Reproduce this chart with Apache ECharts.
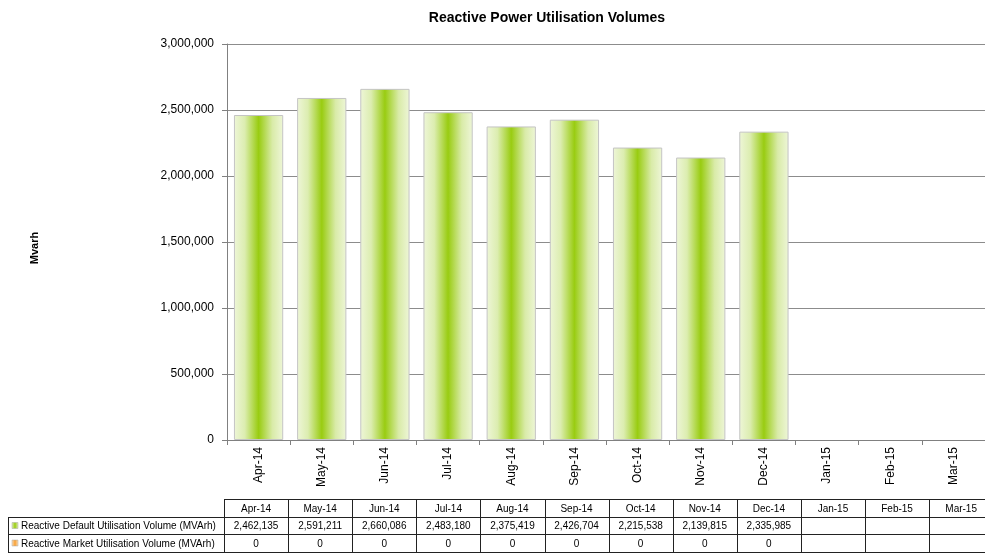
<!DOCTYPE html>
<html><head><meta charset="utf-8">
<script src="https://cdn.jsdelivr.net/npm/echarts@6/dist/echarts.min.js"></script>
<style>html,body{margin:0;padding:0;background:#fff}#c{width:985px;height:557px}</style>
</head><body><div id="c"></div>
<script>
var categories = ['Apr-14','May-14','Jun-14','Jul-14','Aug-14','Sep-14','Oct-14','Nov-14','Dec-14','Jan-15','Feb-15','Mar-15'];
var defaultVolume = [2462135,2591211,2660086,2483180,2375419,2426704,2215538,2139815,2335985,null,null,null];
var marketVolume = [0,0,0,0,0,0,0,0,0,null,null,null];
var seriesNames = ['Reactive Default Utilisation Volume (MVArh)','Reactive Market Utilisation Volume (MVArh)'];
var yTicks = {min:0, max:3000000, interval:500000};
var titleText = 'Reactive Power Utilisation Volumes';
var yName = 'Mvarh';

var FONT = 'Liberation Sans, Arial, sans-serif';
var chart = echarts.init(document.getElementById('c'), null, {renderer:'canvas'});
function fmt(v){ return v==null ? '' : v.toLocaleString('en-US'); }

var barGrad = new echarts.graphic.LinearGradient(0,0,1,0,[
  {offset:0, color:'#eef6d8'},
  {offset:0.22, color:'#dcedb0'},
  {offset:0.5, color:'#99cc11'},
  {offset:0.78, color:'#d9eba8'},
  {offset:1, color:'#eef6d8'}
]);

// table graphics
var tblLeft = 224, colW = 64.1, labelLeft = 8;
var rowY = [499, 517, 534, 552];
var tableRight = tblLeft + colW*categories.length;
var g = [];
var lineStyle = {stroke:'#222', lineWidth:1};
function hline(x1,x2,y){ g.push({type:'line', shape:{x1:x1,y1:y+0.5,x2:x2,y2:y+0.5}, style:lineStyle, silent:true}); }
function vline(x,y1,y2){ g.push({type:'line', shape:{x1:Math.round(x)+0.5,y1:y1,x2:Math.round(x)+0.5,y2:y2}, style:lineStyle, silent:true}); }
hline(tblLeft, tableRight, rowY[0]);
hline(labelLeft, tableRight, rowY[1]);
hline(labelLeft, tableRight, rowY[2]);
hline(labelLeft, tableRight, rowY[3]);
vline(labelLeft, rowY[1], rowY[3]);
for (var i=0;i<=categories.length;i++) vline(tblLeft+i*colW, rowY[0], rowY[3]);
var rows = [defaultVolume, marketVolume];
for (var i=0;i<categories.length;i++){
  var cx = tblLeft + (i+0.5)*colW;
  g.push({type:'text', x:cx, y:(rowY[0]+rowY[1])/2+1, style:{text:categories[i], font:'10px '+FONT, fill:'#000', align:'center', verticalAlign:'middle'}, silent:true});
  for (var r=0;r<2;r++){
    g.push({type:'text', x:cx, y:(rowY[r+1]+rowY[r+2])/2+1, style:{text:fmt(rows[r][i]), font:'10px '+FONT, fill:'#000', align:'center', verticalAlign:'middle'}, silent:true});
  }
}
var swatch = [
  new echarts.graphic.LinearGradient(0,0,1,0,[{offset:0,color:'#e3f0bd'},{offset:0.5,color:'#99cc11'},{offset:1,color:'#e3f0bd'}]),
  new echarts.graphic.LinearGradient(0,0,1,0,[{offset:0,color:'#fde3c0'},{offset:0.5,color:'#f7a035'},{offset:1,color:'#fde3c0'}])
];
for (var r=0;r<2;r++){
  var cy = (rowY[r+1]+rowY[r+2])/2;
  g.push({type:'rect', shape:{x:12, y:cy-3, width:6, height:6}, style:{fill:swatch[r], stroke:'#aaa', lineWidth:0.5}, silent:true});
  g.push({type:'text', x:21, y:cy+1, style:{text:seriesNames[r], font:'10px '+FONT, fill:'#000', align:'left', verticalAlign:'middle'}, silent:true});
}
g.push({type:'text', x:35, y:248, rotation:Math.PI/2, style:{text:yName, font:'bold 11px '+FONT, fill:'#000', align:'center', verticalAlign:'middle'}, silent:true});

chart.setOption({
  animation:false,
  backgroundColor:'#fff',
  title:{text:titleText, left:542, top:6, textAlign:'center', textStyle:{fontFamily:FONT, fontSize:14, fontWeight:'bold', color:'#000'}},
  grid:{left:227, top:44, bottom:117, right:-8, containLabel:false},
  xAxis:{type:'category', data:categories,
    axisLine:{lineStyle:{color:'#808080', width:1}},
    axisTick:{show:true, alignWithLabel:false, length:5, lineStyle:{color:'#808080'}},
    axisLabel:{rotate:90, interval:0, margin:7, fontFamily:FONT, fontSize:12, color:'#000'}
  },
  yAxis:{type:'value', min:yTicks.min, max:yTicks.max, interval:yTicks.interval,
    axisLine:{show:true, lineStyle:{color:'#808080'}},
    axisTick:{show:true, length:5, lineStyle:{color:'#808080'}},
    splitLine:{lineStyle:{color:'#8c8c8c', width:1}},
    axisLabel:{margin:13, fontFamily:FONT, fontSize:12, color:'#000', formatter:function(v){return fmt(v);}}
  },
  series:[{
    name:seriesNames[0], type:'bar', data:defaultVolume, barCategoryGap:'22%',
    itemStyle:{color:barGrad, borderColor:'#c4c4c4', borderWidth:1}
  }],
  graphic:g
});
</script></body></html>
